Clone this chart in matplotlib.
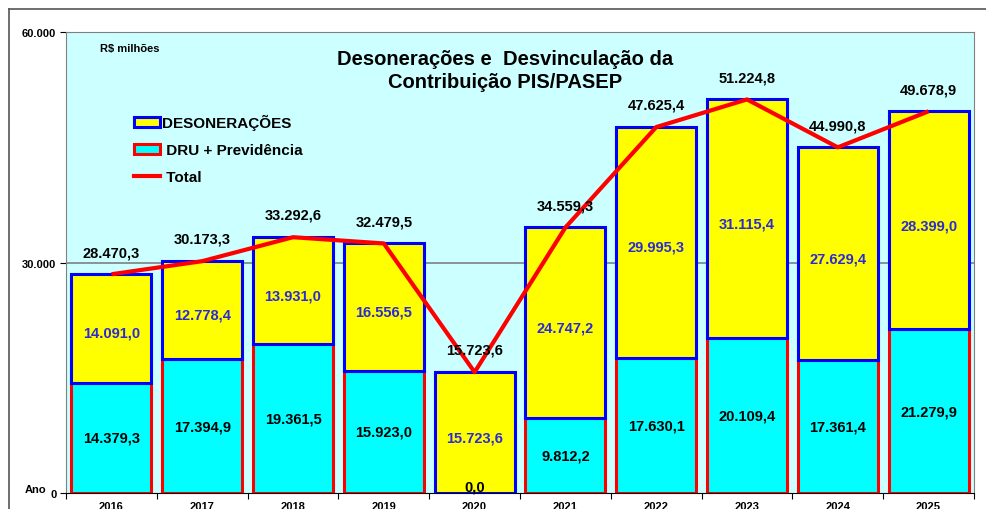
import matplotlib.pyplot as plt
from matplotlib.patches import Patch
from matplotlib.lines import Line2D
import numpy as np

plt.rcParams['font.family'] = ['Liberation Sans', 'DejaVu Sans']
plt.rcParams['font.weight'] = 'bold'

# valores em R$ milhões
anos = ['2016', '2017', '2018', '2019', '2020', '2021', '2022', '2023', '2024', '2025']
dru = [14379.3, 17394.9, 19361.5, 15923.0, 0.0, 9812.2, 17630.1, 20109.4, 17361.4, 21279.9]
deson = [14091.0, 12778.4, 13931.0, 16556.5, 15723.6, 24747.2, 29995.3, 31115.4, 27629.4, 28399.0]
total = [28470.3, 30173.3, 33292.6, 32479.5, 15723.6, 34559.3, 47625.4, 51224.8, 44990.8, 49678.9]


def br(v):
    s = f"{v:,.1f}"
    return s.replace(',', 'X').replace('.', ',').replace('X', '.')


fig = plt.figure(figsize=(9.86, 5.10), dpi=100)
ax = fig.add_axes([66 / 986, 16 / 510, 908 / 986, 461 / 510])
ax.set_facecolor('#ccffff')

x = np.arange(len(anos))
w = 0.88
ax.bar(x, dru, w, color='#00ffff', edgecolor='#ff0000', linewidth=2.2, zorder=2)
ax.bar(x, deson, w, bottom=dru, color='#ffff00', edgecolor='#0000ff', linewidth=2.2, zorder=3)
ax.plot(x, total, color='#ff0000', linewidth=3, zorder=4, solid_capstyle='butt')

for i in range(len(anos)):
    ax.text(x[i], dru[i] / 2 if dru[i] > 0 else 900, br(dru[i]), ha='center', va='center',
            fontsize=10.5, fontweight='bold', color='black', zorder=5)
    ax.text(x[i], dru[i] + deson[i] / 2 - 600, br(deson[i]), ha='center', va='center',
            fontsize=10.5, fontweight='bold', color='#2b2bd6', zorder=5)
    ax.annotate(br(total[i]), (x[i], total[i]), xytext=(0, 16), textcoords='offset points',
                ha='center', va='center', fontsize=10.5, fontweight='bold', zorder=5)

ax.set_xlim(-0.5, len(anos) - 0.5)
ax.set_ylim(0, 60000)
ax.set_yticks([0, 30000, 60000])
ax.set_yticklabels(['0', '30.000', '60.000'], fontsize=8, fontweight='bold')
ax.axhline(30000, color='#808080', linewidth=1.2, zorder=1)

ax.set_xticks(np.arange(-0.5, len(anos), 1.0))
ax.set_xticklabels([])
ax.set_xticks(x, minor=True)
ax.set_xticklabels(anos, minor=True, fontsize=8, fontweight='bold')
ax.tick_params(axis='x', which='minor', length=0, pad=6)
ax.tick_params(axis='x', which='major', length=4, direction='out')
ax.tick_params(axis='y', length=4, direction='out', pad=3)

for s in ['top', 'right', 'left']:
    ax.spines[s].set_color('#808080')
ax.spines['bottom'].set_color('black')

fig.text(100 / 986, 1 - 49 / 510, 'R$ milhões', fontsize=8, fontweight='bold', va='center')
fig.text(25 / 986, 1 - 490 / 510, 'Ano', fontsize=8, fontweight='bold', va='center')
fig.text(505 / 986, 1 - 71 / 510, 'Desonerações e  Desvinculação da\nContribuição PIS/PASEP',
         ha='center', va='center', fontsize=14.5, fontweight='bold', linespacing=1.3)

handles = [Patch(facecolor='#ffff00', edgecolor='#0000ff', linewidth=2.2),
           Patch(facecolor='#00ffff', edgecolor='#ff0000', linewidth=2.2),
           Line2D([], [], color='#ff0000', linewidth=3)]
ax.legend(handles, ['DESONERAÇÕES', ' DRU + Previdência', ' Total'], loc='upper left',
          bbox_to_anchor=(0.066, 0.838), frameon=False, handlelength=1.7,
          handleheight=0.6, handletextpad=0.15, labelspacing=0.85, borderpad=0,
          prop={'weight': 'bold', 'size': 11})

# moldura externa
fig.add_artist(Line2D([9 / 986, 9 / 986], [0, 1 - 10 / 510], color='#555555', linewidth=1.2))
fig.add_artist(Line2D([9 / 986, 1], [1 - 10 / 510, 1 - 10 / 510], color='#555555', linewidth=1.2))

fig.savefig('out.png', dpi=100)
